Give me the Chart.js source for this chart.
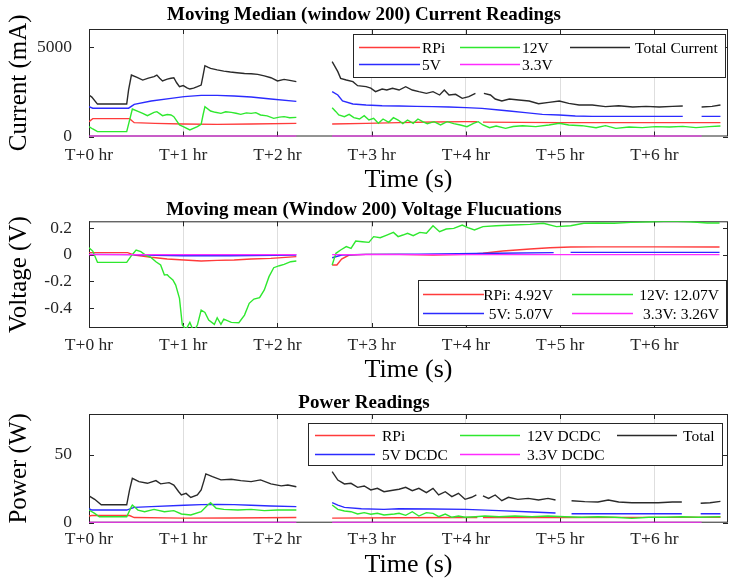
<!DOCTYPE html>
<html>
<head>
<meta charset="utf-8">
<script src="https://cdn.jsdelivr.net/npm/chart.js@4.4.1/dist/chart.umd.min.js"></script>
<style>
  html, body { margin: 0; padding: 0; background: #fff; }
  #fig { position: relative; width: 729px; height: 578px; overflow: hidden; background: #fff; }
  .panel { position: absolute; left: 0; width: 729px; }
  canvas { display: block; }
</style>
</head>
<body>
<div id="fig">
  <div class="panel" style="top:0px"><canvas id="cCurrent" width="729" height="195"></canvas></div>
  <div class="panel" style="top:195px"><canvas id="cVoltage" width="729" height="193"></canvas></div>
  <div class="panel" style="top:388px"><canvas id="cPower" width="729" height="190"></canvas></div>
</div>
<script>
// ---- time axis (hours since start) ----
const hourTicks = [0, 1, 2, 3, 4, 5, 6];
const hourLabels = ['T+0 hr', 'T+1 hr', 'T+2 hr', 'T+3 hr', 'T+4 hr', 'T+5 hr', 'T+6 hr'];
const timeMin = 0;
const timeMax = 6.78;

// ---- moving median current (mA), [hour, value]; null marks a logging gap ----
const currentRPi = [[0,830],[0.04,995],[0.43,995],[0.48,772],[0.7,730],[1.0,698],[1.36,679],[1.72,698],[2.2,735],[2.21,null],
  [2.58,698],[2.94,735],[3.29,772],[3.65,809],[4.0,828],[4.12,825],[4.14,null],[4.18,800],[4.56,791],[5.0,772],[6.0,772],[6.7,772]];
const current5V = [[0,1665],[0.04,1580],[0.42,1580],[0.48,1795],[0.66,1981],[0.87,2130],[1.01,2223],[1.19,2297],[1.36,2297],[1.54,2260],[1.72,2204],[1.93,2093],[2.2,1962],[2.21,null],
  [2.58,2502],[2.64,2316],[2.69,1981],[2.8,1814],[2.94,1758],[3.11,1720],[3.29,1702],[3.47,1683],[3.65,1665],[3.82,1646],[4.0,1609],[4.17,1572],[4.35,1479],[4.46,1423],[4.63,1330],[4.81,1237],[4.99,1200],[5.16,1144],[5.34,1125],[5.8,1125],[6.3,1125],[6.36,null],
  [6.5,1125],[6.7,1125]];
const current12V = [[0,549],[0.04,420],[0.09,270],[0.4,270],[0.43,900],[0.46,1535],[0.52,1400],[0.57,1293],[0.62,1162],[0.69,1349],[0.72,1386],[0.78,1162],[0.83,1230],[0.87,1200],[0.9,1107],[0.96,642],[1.0,549],[1.07,363],[1.15,549],[1.19,679],[1.21,1200],[1.23,1665],[1.29,1423],[1.34,1350],[1.4,1293],[1.45,1380],[1.51,1349],[1.56,1300],[1.61,1237],[1.67,1320],[1.72,1293],[1.77,1330],[1.82,1200],[1.89,1150],[1.96,1014],[2.02,1080],[2.07,1107],[2.13,1050],[2.2,1070],[2.21,null],
  [2.58,1609],[2.62,1386],[2.65,1200],[2.71,1107],[2.76,1237],[2.81,1051],[2.87,977],[2.92,1162],[2.97,921],[3.02,1014],[3.07,735],[3.12,977],[3.18,791],[3.23,1051],[3.28,921],[3.33,716],[3.38,921],[3.44,735],[3.49,977],[3.54,828],[3.59,716],[3.66,828],[3.73,642],[3.8,828],[3.87,716],[3.94,642],[4.01,549],[4.08,735],[4.13,828],[4.18,642],[4.25,493],[4.32,586],[4.42,456],[4.5,560],[4.6,604],[4.74,549],[4.88,642],[4.99,735],[5.09,642],[5.23,604],[5.38,493],[5.48,604],[5.59,456],[5.73,530],[5.87,493],[6.01,549],[6.16,530],[6.3,567],[6.44,493],[6.58,549],[6.7,586]];
const current3V3 = [[0,10],[2.2,10],[2.21,null],[2.58,10],[6.5,10]];
const currentTotal = [[0,2320],[0.03,2200],[0.09,1810],[0.4,1810],[0.42,2600],[0.45,3430],[0.51,3300],[0.57,3150],[0.63,3260],[0.69,3340],[0.72,3430],[0.75,3250],[0.78,3100],[0.83,3200],[0.87,3250],[0.9,3280],[0.93,3000],[0.96,2780],[1.0,2840],[1.04,2720],[1.07,2650],[1.11,2700],[1.15,2780],[1.19,2870],[1.21,3400],[1.23,3950],[1.26,3870],[1.29,3800],[1.36,3720],[1.43,3650],[1.5,3600],[1.57,3560],[1.65,3520],[1.72,3500],[1.79,3470],[1.86,3380],[1.93,3280],[2.0,3100],[2.07,3190],[2.13,3130],[2.2,3060],[2.21,null],
  [2.58,4176],[2.61,3900],[2.64,3618],[2.67,3246],[2.73,3153],[2.8,3060],[2.85,2836],[2.94,2781],[2.99,2700],[3.04,2502],[3.11,2651],[3.16,2600],[3.22,2688],[3.29,2595],[3.36,2781],[3.43,2595],[3.5,2502],[3.58,2409],[3.65,2502],[3.72,2316],[3.77,2595],[3.82,2316],[3.89,2353],[3.96,2130],[4.03,2223],[4.1,2409],[4.14,null],
  [4.19,2409],[4.26,2316],[4.31,2093],[4.38,1981],[4.46,2093],[4.56,2037],[4.67,1981],[4.77,1832],[4.88,1907],[4.99,1981],[5.09,1851],[5.2,1758],[5.34,1758],[5.48,1665],[5.62,1720],[5.77,1646],[5.91,1683],[6.05,1646],[6.19,1683],[6.3,1702],[6.36,null],
  [6.5,1646],[6.61,1683],[6.7,1758]];

// ---- moving mean voltage deviation (V) ----
const voltageRPi = [[0,0.015],[0.41,0.015],[0.48,-0.003],[0.66,-0.02],[0.83,-0.033],[1.01,-0.04],[1.19,-0.048],[1.36,-0.043],[1.54,-0.04],[1.72,-0.033],[1.93,-0.028],[2.2,-0.015],[2.21,null],
  [2.58,-0.078],[2.63,-0.078],[2.68,-0.033],[2.76,-0.003],[2.94,0.002],[3.29,0.002],[3.65,-0.003],[4.0,0.002],[4.18,0.01],[4.39,0.027],[4.68,0.042],[4.89,0.052],[5.11,0.057],[5.39,0.058],[6.0,0.058],[6.69,0.057]];
const voltage5V = [[0,0.002],[0.45,0.0],[0.7,-0.005],[1.0,-0.008],[1.5,-0.008],[2.2,-0.003],[2.21,null],
  [2.58,-0.023],[2.68,-0.003],[2.94,0.002],[3.5,0.004],[4.32,0.01],[4.93,0.015],[4.95,null],[5.11,0.017],[6.69,0.017]];
const voltage12V = [[0,0.052],[0.04,0.027],[0.09,-0.058],[0.4,-0.058],[0.45,-0.008],[0.5,0.034],[0.55,0.022],[0.6,-0.003],[0.66,-0.023],[0.71,-0.053],[0.76,-0.078],[0.8,-0.153],[0.83,-0.15],[0.85,-0.165],[0.89,-0.19],[0.92,-0.228],[0.96,-0.328],[0.99,-0.528],[1.03,-0.56],[1.07,-0.508],[1.11,-0.575],[1.15,-0.528],[1.19,-0.415],[1.23,-0.433],[1.27,-0.49],[1.33,-0.523],[1.36,-0.473],[1.4,-0.523],[1.43,-0.483],[1.51,-0.508],[1.59,-0.51],[1.65,-0.453],[1.7,-0.365],[1.75,-0.333],[1.81,-0.323],[1.86,-0.265],[1.91,-0.165],[1.96,-0.098],[2.02,-0.083],[2.07,-0.073],[2.14,-0.053],[2.2,-0.048],[2.21,null],
  [2.58,-0.078],[2.62,0.01],[2.67,0.035],[2.73,0.06],[2.78,0.047],[2.83,0.102],[2.9,0.097],[2.97,0.092],[3.02,0.135],[3.09,0.127],[3.16,0.147],[3.23,0.167],[3.28,0.135],[3.33,0.147],[3.38,0.16],[3.44,0.142],[3.51,0.167],[3.58,0.16],[3.65,0.217],[3.72,0.172],[3.79,0.192],[3.87,0.197],[3.96,0.222],[4.02,0.202],[4.09,0.185],[4.18,0.21],[4.32,0.217],[4.5,0.222],[4.68,0.227],[4.82,0.235],[4.96,0.21],[5.11,0.217],[5.25,0.235],[5.39,0.237],[5.57,0.235],[5.75,0.242],[5.96,0.247],[6.17,0.252],[6.38,0.247],[6.56,0.237],[6.69,0.237]];
const voltage3V3 = [[0,0.0],[2.2,0.0],[2.21,null],[2.58,0.0],[6.69,0.0]];

// ---- power (W) ----
const powerRPi = [[0,4.9],[0.03,5.3],[0.43,5.3],[0.48,3.8],[1.0,3.4],[1.5,3.5],[2.2,3.8],[2.21,null],
  [2.58,3.4],[3.29,3.6],[4.0,3.8],[4.12,3.8],[4.14,null],[4.18,3.8],[5.0,3.8],[6.0,3.9],[6.7,4.0]];
const power5V = [[0,10.3],[0.03,9.3],[0.4,9.3],[0.48,11.3],[0.66,11.8],[1.01,12.8],[1.19,13.3],[1.36,13.5],[1.54,13.3],[1.72,12.8],[1.93,12.3],[2.2,11.8],[2.21,null],
  [2.58,14.7],[2.64,13.0],[2.71,11.3],[2.89,10.3],[3.13,9.8],[3.29,10.3],[3.65,10.1],[4.0,9.8],[4.35,8.9],[4.7,7.9],[4.95,7.1],[4.99,null],
  [5.12,6.6],[6.29,6.6],[6.36,null],[6.49,6.6],[6.7,6.6]];
const power12V = [[0,9.3],[0.06,6.9],[0.11,4.4],[0.4,4.4],[0.45,11.8],[0.46,13.0],[0.52,9.3],[0.59,8.1],[0.69,9.8],[0.8,8.1],[0.9,8.9],[0.98,6.4],[1.08,5.7],[1.19,8.1],[1.26,13.0],[1.29,14.7],[1.35,10.6],[1.43,9.8],[1.58,9.3],[1.72,9.8],[1.86,8.9],[2.0,9.3],[2.2,9.3],[2.21,null],
  [2.58,13.0],[2.64,9.8],[2.71,8.6],[2.78,8.1],[2.85,6.4],[2.92,7.4],[2.99,6.2],[3.06,6.9],[3.13,5.7],[3.24,6.4],[3.29,6.9],[3.36,5.4],[3.43,8.1],[3.5,4.9],[3.58,7.4],[3.65,6.9],[3.71,4.4],[3.78,6.4],[3.85,4.0],[3.92,4.9],[3.99,4.0],[4.1,4.4],[4.2,4.9],[4.35,4.4],[4.52,4.9],[4.7,4.4],[4.87,4.9],[5.05,4.4],[5.23,4.0],[5.4,4.4],[5.58,4.0],[5.76,3.2],[5.94,4.0],[6.12,4.0],[6.29,4.4],[6.47,4.0],[6.7,4.4]];
const power3V3 = [[0,0.1],[2.2,0.1],[2.21,null],[2.58,0.1],[6.5,0.1]];
const powerTotal = [[0,19.7],[0.06,17.2],[0.13,13.2],[0.4,13.2],[0.43,24],[0.46,32.7],[0.53,30.2],[0.62,29.0],[0.71,31.0],[0.76,28.6],[0.85,29.5],[0.9,27.7],[0.95,23],[0.98,20.4],[1.03,21.6],[1.08,18.6],[1.15,20.4],[1.19,24.1],[1.22,31],[1.24,35.9],[1.31,33.9],[1.4,31.5],[1.51,32.0],[1.61,31.0],[1.72,30.2],[1.82,31.5],[1.93,28.6],[2.04,27.1],[2.11,27.7],[2.2,26.5],[2.21,null],
  [2.58,37.6],[2.64,31.4],[2.71,28.5],[2.78,29.0],[2.85,26.0],[2.92,27.0],[2.99,24.1],[3.06,25.3],[3.13,22.8],[3.24,24.1],[3.29,24.6],[3.36,26.0],[3.43,23.6],[3.5,25.3],[3.58,22.1],[3.65,25.3],[3.71,20.4],[3.78,22.8],[3.85,19.2],[3.92,21.6],[3.99,17.2],[4.06,18.7],[4.11,20.4],[4.14,null],
  [4.18,19.7],[4.24,17.9],[4.31,20.4],[4.38,16.2],[4.45,18.7],[4.55,17.2],[4.66,17.9],[4.77,16.7],[4.87,17.9],[4.95,16.7],[4.99,null],
  [5.12,16.2],[5.26,15.5],[5.4,15.2],[5.51,16.7],[5.62,15.2],[5.76,14.7],[5.9,14.7],[6.04,14.7],[6.19,15.2],[6.29,15.2],[6.36,null],
  [6.49,14.3],[6.59,14.7],[6.7,15.7]];

// ---- y ticks ----
const currentTicks = [0, 5000];
const currentTickLabels = ['0', '5000'];
const voltageTicks = [-0.4, -0.2, 0, 0.2];
const voltageTickLabels = ['-0.4', '-0.2', '0', '0.2'];
const powerTicks = [0, 50];
const powerTickLabels = ['0', '50'];

// ---- styling ----
const SERIF = "'Liberation Serif', 'Times New Roman', Times, serif";
const INK = '#262626';
const COLORS = { red: '#ff3b3b', blue: '#2b2bff', green: '#2ee82e', magenta: '#ff2bff', black: '#2a2a2a' };

function series(label, pts, color, idx, n) {
  return {
    label,
    data: pts.map(([x, y]) => ({ x, y })),
    borderColor: color,
    backgroundColor: color,
    borderWidth: 1.4,
    pointRadius: 0,
    spanGaps: false,
    fill: false,
    order: n - idx
  };
}

// MATLAB-style box around the axes with inward tick marks
const axesBox = {
  id: 'axesBox',
  beforeDatasetsDraw(chart) {
    const { ctx, chartArea: { left, top, right, bottom }, scales: { x, y } } = chart;
    ctx.save();
    ctx.strokeStyle = INK;
    ctx.lineWidth = 1;
    ctx.strokeRect(left + 0.5, top + 0.5, right - left - 1, bottom - top - 1);
    const tl = 5;
    ctx.beginPath();
    x.ticks.forEach(t => {
      const px = Math.round(x.getPixelForValue(t.value)) + 0.5;
      ctx.moveTo(px, top); ctx.lineTo(px, top + tl);
      ctx.moveTo(px, bottom); ctx.lineTo(px, bottom - tl);
    });
    y.ticks.forEach(t => {
      const py = Math.round(y.getPixelForValue(t.value)) + 0.5;
      ctx.moveTo(left, py); ctx.lineTo(left + tl, py);
      ctx.moveTo(right, py); ctx.lineTo(right - tl, py);
    });
    ctx.stroke();
    ctx.restore();
  }
};

// boxed legend laid out in columns of two entries
function boxedLegend(layout) {
  return {
    id: 'boxedLegend',
    afterDatasetsDraw(chart) {
      const { ctx, chartArea } = chart;
      const t0 = chartArea.top;
      const [x1, y1, x2, y2] = layout.box;
      ctx.save();
      ctx.fillStyle = '#fff';
      ctx.fillRect(x1, t0 + y1, x2 - x1, y2 - y1);
      ctx.strokeStyle = INK;
      ctx.lineWidth = 1;
      ctx.strokeRect(x1 + 0.5, t0 + y1 + 0.5, x2 - x1, y2 - y1);
      ctx.font = `15.5px ${SERIF}`;
      ctx.textBaseline = 'middle';
      chart.data.datasets.forEach((ds, i) => {
        const col = layout.cols[Math.floor(i / 2)];
        const ry = Math.round(t0 + layout.rows[i % 2]) + 0.5;
        ctx.strokeStyle = ds.borderColor;
        ctx.lineWidth = 1.5;
        ctx.beginPath();
        ctx.moveTo(col[0], ry);
        ctx.lineTo(col[1], ry);
        ctx.stroke();
        ctx.fillStyle = '#000';
        ctx.textAlign = layout.align || 'left';
        ctx.fillText(ds.label, col[2], ry + 1);
      });
      ctx.restore();
    }
  };
}

function makePanel(canvasId, p) {
  const n = p.datasets.length;
  return new Chart(document.getElementById(canvasId), {
    type: 'line',
    data: { datasets: p.datasets.map((d, i) => series(d[0], d[1], d[2], i, n)) },
    plugins: [axesBox, boxedLegend(p.legend)],
    options: {
      responsive: false,
      animation: false,
      devicePixelRatio: 1,
      layout: { padding: { left: 0, right: 1, top: 0, bottom: 0 } },
      plugins: {
        legend: { display: false },
        tooltip: { enabled: false },
        title: {
          display: true,
          text: p.title,
          color: '#000',
          font: { family: SERIF, size: 19, weight: 'bold', lineHeight: 1 },
          padding: { top: p.titlePad[0], bottom: p.titlePad[1] }
        }
      },
      scales: {
        x: {
          type: 'linear',
          min: timeMin,
          max: timeMax,
          afterBuildTicks: s => { s.ticks = hourTicks.map(v => ({ value: v })); },
          afterFit: s => { s.height = p.xAxisHeight; },
          grid: { display: true, color: '#dedede', lineWidth: 1, drawTicks: false },
          border: { display: false },
          ticks: {
            color: INK,
            font: { family: SERIF, size: 17.5, lineHeight: 1.2 },
            padding: p.xTickPad,
            maxRotation: 0,
            autoSkip: false,
            callback: (v, i) => hourLabels[i]
          },
          title: {
            display: true,
            text: 'Time (s)',
            color: '#000',
            font: { family: SERIF, size: 26, lineHeight: 1 },
            padding: { top: 0, bottom: p.xTitlePad }
          }
        },
        y: {
          min: p.yMin,
          max: p.yMax,
          afterBuildTicks: s => { s.ticks = p.yTicks.map(v => ({ value: v })); },
          afterFit: s => { s.width = 89; },
          grid: { display: false, drawTicks: true, tickLength: 14 },
          border: { display: false },
          ticks: {
            color: INK,
            font: { family: SERIF, size: 17.5, lineHeight: 1.2 },
            padding: 3,
            callback: (v, i) => p.yTickLabels[i]
          },
          title: {
            display: true,
            text: p.yTitle,
            color: '#000',
            font: { family: SERIF, size: 25, lineHeight: 1 },
            padding: { top: 7, bottom: 0 }
          }
        }
      }
    }
  });
}

makePanel('cCurrent', {
  title: 'Moving Median (window 200) Current Readings',
  yTitle: 'Current (mA)',
  yMin: 0, yMax: 6000,
  yTicks: currentTicks, yTickLabels: currentTickLabels,
  titlePad: [6, 4], xAxisHeight: 58.5, xTickPad: 8, xTitlePad: 2,
  datasets: [
    ['RPi', currentRPi, COLORS.red],
    ['5V', current5V, COLORS.blue],
    ['12V', current12V, COLORS.green],
    ['3.3V', current3V3, COLORS.magenta],
    ['Total Current', currentTotal, COLORS.black]
  ],
  legend: { box: [353, 5, 725, 48], rows: [17.7, 34.5], cols: [[359, 420, 422], [460, 520, 522], [570, 630, 635]] }
});

makePanel('cVoltage', {
  title: 'Moving mean (Window 200) Voltage Flucuations',
  yTitle: 'Voltage (V)',
  yMin: -0.55, yMax: 0.25,
  yTicks: voltageTicks, yTickLabels: voltageTickLabels,
  titlePad: [6, 1.3], xAxisHeight: 60, xTickPad: 7, xTitlePad: 5,
  datasets: [
    ['RPi: 4.92V', voltageRPi, COLORS.red],
    ['5V: 5.07V', voltage5V, COLORS.blue],
    ['12V: 12.07V', voltage12V, COLORS.green],
    ['3.3V: 3.26V', voltage3V3, COLORS.magenta]
  ],
  legend: { box: [418, 58.7, 726, 103.7], rows: [72.2, 91.2], cols: [[423, 484, 553], [572, 633, 719]], align: 'right' }
});

makePanel('cPower', {
  title: 'Power Readings',
  yTitle: 'Power (W)',
  yMin: 0, yMax: 80,
  yTicks: powerTicks, yTickLabels: powerTickLabels,
  titlePad: [5.8, 1.2], xAxisHeight: 55.3, xTickPad: 6.5, xTitlePad: 0,
  datasets: [
    ['RPi', powerRPi, COLORS.red],
    ['5V DCDC', power5V, COLORS.blue],
    ['12V DCDC', power12V, COLORS.green],
    ['3.3V DCDC', power3V3, COLORS.magenta],
    ['Total', powerTotal, COLORS.black]
  ],
  legend: { box: [308, 9, 722, 51], rows: [21, 40.3], cols: [[315, 375, 382], [460, 520, 527], [617, 677, 683]] }
});
</script>
</body>
</html>
